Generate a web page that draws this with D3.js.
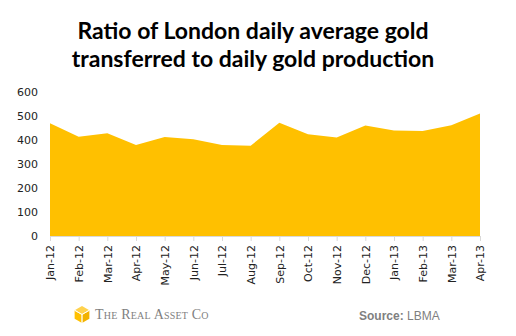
<!DOCTYPE html>
<html>
<head>
<meta charset="utf-8">
<script src="https://cdn.jsdelivr.net/npm/d3@7"></script>
<style>
  html, body { margin: 0; padding: 0; background: #fff; }
  svg { display: block; }
</style>
</head>
<body>
<svg id="chart" width="516" height="336"></svg>
<script>
// Monthly ratio of London daily average gold transferred to daily gold production
const months = ["Jan-12","Feb-12","Mar-12","Apr-12","May-12","Jun-12","Jul-12","Aug-12",
                "Sep-12","Oct-12","Nov-12","Dec-12","Jan-13","Feb-13","Mar-13","Apr-13"];
const ratio = [470, 414, 428, 379, 412, 403, 379, 376, 472, 424, 410, 460, 440, 437, 461, 510];
const yTicks = [0, 100, 200, 300, 400, 500, 600];
const titleLines = ["Ratio of London daily average gold", "transferred to daily gold production"];

const svg = d3.select("#chart");
const plot = { left: 50, right: 480, top: 92, bottom: 236 };

const x = d3.scalePoint().domain(months).range([plot.left, plot.right]);
const y = d3.scaleLinear().domain([0, 600]).range([plot.bottom, plot.top]);

// Title
svg.append("g").selectAll("text").data(titleLines).join("text")
  .attr("x", 253)
  .attr("y", (d, i) => 39 + i * 28)
  .attr("text-anchor", "middle")
  .attr("font-family", "Lato, 'Open Sans', sans-serif")
  .attr("font-weight", "bold")
  .attr("font-size", 23)
  .attr("fill", "#000")
  .text(d => d);

// Filled area
const area = d3.area()
  .x((d, i) => x(months[i]))
  .y0(y(0))
  .y1(d => y(d));

svg.append("path")
  .datum(ratio)
  .attr("d", area)
  .attr("fill", "#FFC000");

// Y axis (labels only)
const yAxis = svg.append("g")
  .attr("transform", `translate(${plot.left},0)`)
  .call(d3.axisLeft(y).tickValues(yTicks).tickSize(0).tickPadding(12));
yAxis.select(".domain").remove();
yAxis.selectAll("text")
  .attr("font-family", "'DejaVu Sans', Verdana, sans-serif")
  .attr("font-size", 11)
  .attr("fill", "#222");

// X axis
const xAxis = svg.append("g")
  .attr("transform", `translate(0,${plot.bottom})`)
  .call(d3.axisBottom(x).tickSize(5).tickSizeOuter(0));
xAxis.select(".domain").attr("stroke", "#d9d9d9");
xAxis.selectAll(".tick line").attr("stroke", "#d9d9d9");
xAxis.selectAll("text")
  .attr("font-family", "'DejaVu Sans', Verdana, sans-serif")
  .attr("font-size", 11)
  .attr("fill", "#222")
  .attr("text-anchor", "end")
  .attr("transform", "rotate(-90)")
  .attr("x", -9)
  .attr("y", 0)
  .attr("dy", "0.35em");

// Logo mark: isometric cube
const logo = svg.append("g").attr("transform", "translate(82,314.5)");
const r = 8.5;
const hex = a => [r * Math.cos(a * Math.PI / 180), r * Math.sin(a * Math.PI / 180)];
const [p30, p90, p150, p210, p270, p330] = [30, 90, 150, 210, 270, 330].map(hex);
const face = pts => "M" + pts.map(p => p.join(",")).join("L") + "Z";
logo.append("path").attr("d", face([[0,0], p210, p270, p330])).attr("fill", "#FFD24D");
logo.append("path").attr("d", face([[0,0], p330, p30, p90])).attr("fill", "#F2B200");
logo.append("path").attr("d", face([[0,0], p90, p150, p210])).attr("fill", "#FFC000");
logo.append("path").attr("d", face([[0,0], p210]) + face([[0,0], p330]) + face([[0,0], p90]))
  .attr("stroke", "#fff").attr("stroke-width", 0.8).attr("fill", "none");

svg.append("text")
  .attr("x", 95).attr("y", 319)
  .attr("font-family", "'Liberation Serif', 'DejaVu Serif', serif")
  .attr("font-size", 14)
  .attr("font-variant", "small-caps")
  .attr("letter-spacing", 0.2)
  .attr("fill", "#7f7f7f")
  .text("The Real Asset Co");

// Source note
const src = svg.append("text")
  .attr("x", 359).attr("y", 320)
  .attr("font-family", "'Liberation Sans', Arial, sans-serif")
  .attr("font-size", 12)
  .attr("fill", "#7f7f7f");
src.append("tspan").attr("font-weight", "bold").text("Source: ");
src.append("tspan").text("LBMA");
</script>
</body>
</html>
